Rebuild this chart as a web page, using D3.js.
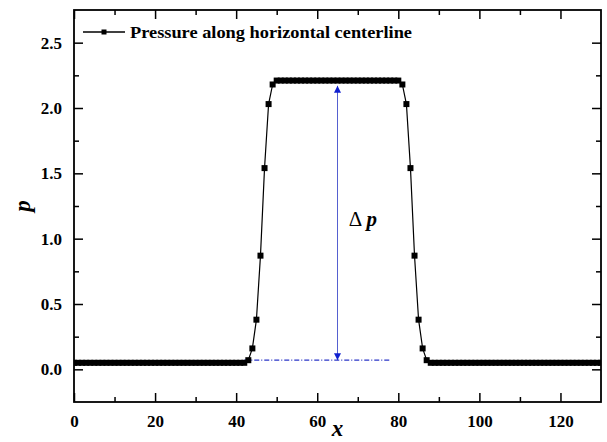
<!DOCTYPE html>
<html lang="en">
<head>
<meta charset="utf-8">
<script src="https://cdn.jsdelivr.net/npm/d3@7"></script>
<style>
  body { margin: 0; background: #fff; }
  text { font-family: "Liberation Serif", "Times New Roman", serif; font-weight: bold; }
</style>
</head>
<body>
<div id="chart"></div>
<script>
// grid positions along the horizontal centerline (x = index)
const pressure = [
  0.05, 0.05, 0.05, 0.05, 0.05, 0.05, 0.05, 0.05, 0.05, 0.05,
  0.05, 0.05, 0.05, 0.05, 0.05, 0.05, 0.05, 0.05, 0.05, 0.05,
  0.05, 0.05, 0.05, 0.05, 0.05, 0.05, 0.05, 0.05, 0.05, 0.05,
  0.05, 0.05, 0.05, 0.05, 0.05, 0.05, 0.05, 0.05, 0.05, 0.05,
  0.05, 0.05, 0.05, 0.07, 0.16, 0.38, 0.87, 1.54, 2.03, 2.18,
  2.21, 2.21, 2.21, 2.21, 2.21, 2.21, 2.21, 2.21, 2.21, 2.21,
  2.21, 2.21, 2.21, 2.21, 2.21, 2.21, 2.21, 2.21, 2.21, 2.21,
  2.21, 2.21, 2.21, 2.21, 2.21, 2.21, 2.21, 2.21, 2.21, 2.21,
  2.21, 2.18, 2.03, 1.54, 0.87, 0.38, 0.16, 0.07, 0.05, 0.05,
  0.05, 0.05, 0.05, 0.05, 0.05, 0.05, 0.05, 0.05, 0.05, 0.05,
  0.05, 0.05, 0.05, 0.05, 0.05, 0.05, 0.05, 0.05, 0.05, 0.05,
  0.05, 0.05, 0.05, 0.05, 0.05, 0.05, 0.05, 0.05, 0.05, 0.05,
  0.05, 0.05, 0.05, 0.05, 0.05, 0.05, 0.05, 0.05, 0.05, 0.05,
  0.05
]
const xTicks = [0, 20, 40, 60, 80, 100, 120]
const xMinor = [10, 30, 50, 70, 90, 110]
const yTicks = [0.0, 0.5, 1.0, 1.5, 2.0, 2.5]
const yMinor = [0.25, 0.75, 1.25, 1.75, 2.25]
// delta p annotation: [x, p] ends
const deltaArrow = [[65, 0.07], [65, 2.17]]
const baseLine = [[42, 0.07], [78, 0.07]]
const deltaLabelAt = [67.8, 1.1]
const legendLabel = 'Pressure along horizontal centerline'

const w = 607
const h = 442
const margin = {left: 74, right: 6, top: 10, bottom: 40}

const svg = d3.select('#chart').append('svg')
  .attr('width', w)
  .attr('height', h)

const x = d3.scaleLinear().domain([0, 130]).range([margin.left, w - margin.right])
const y = d3.scaleLinear().domain([-0.25, 2.75]).range([h - margin.bottom, margin.top])

const data = pressure.map(function(p, i) { return [i, p] })

// clip so the line stops at the frame
svg.append('clipPath').attr('id', 'clip')
  .append('rect')
  .attr('x', margin.left).attr('y', margin.top)
  .attr('width', x.range()[1] - margin.left)
  .attr('height', y.range()[0] - margin.top)

const plot = svg.append('g').attr('clip-path', 'url(#clip)')

// annotation lines (behind the data)
const blue = '#2a35c8'
svg.append('defs').append('marker')
  .attr('id', 'arrow')
  .attr('viewBox', '0 0 10 10')
  .attr('refX', 10).attr('refY', 5)
  .attr('markerWidth', 7).attr('markerHeight', 7)
  .attr('orient', 'auto-start-reverse')
  .attr('markerUnits', 'userSpaceOnUse')
  .append('path')
  .attr('d', 'M0,0 L10,5 L0,10 z')
  .attr('fill', '#1020d0')

plot.append('path')
  .datum(baseLine)
  .attr('d', d3.line().x(d => x(d[0])).y(d => y(d[1])))
  .attr('stroke', blue)
  .attr('stroke-width', 1.2)
  .attr('stroke-dasharray', '5,2,1,2')
  .attr('fill', 'none')

svg.append('path')
  .datum(deltaArrow)
  .attr('d', d3.line().x(d => x(d[0])).y(d => y(d[1])))
  .attr('stroke', '#5560d0')
  .attr('stroke-width', 1)
  .attr('fill', 'none')
  .attr('marker-start', 'url(#arrow)')
  .attr('marker-end', 'url(#arrow)')

// data line + square markers
plot.append('path')
  .datum(data)
  .attr('d', d3.line().x(d => x(d[0])).y(d => y(d[1])))
  .attr('stroke', '#000')
  .attr('stroke-width', 1.2)
  .attr('fill', 'none')

const ms = 6
plot.selectAll('rect.pt')
  .data(data)
  .enter()
  .append('rect')
  .attr('class', 'pt')
  .attr('x', d => x(d[0]) - ms / 2)
  .attr('y', d => y(d[1]) - ms / 2)
  .attr('width', ms)
  .attr('height', ms)
  .attr('fill', '#000')

// axes, ticks pointing inward on all four sides
const x0 = x.range()[0], x1 = x.range()[1]
const y0 = y.range()[0], y1 = y.range()[1]

function labelStyle(g) {
  g.selectAll('.tick text').attr('font-size', 17).attr('fill', '#000')
    .attr('font-family', '"Liberation Serif", serif').attr('font-weight', 'bold')
}
function tickStyle(g) {
  g.select('.domain').remove()
  g.selectAll('.tick line').attr('stroke-width', 1.5)
}

// bottom
svg.append('g').attr('transform', 'translate(0,' + y0 + ')')
  .call(d3.axisBottom(x).tickValues(xTicks).tickSize(-9).tickPadding(13).tickFormat(d3.format('d')))
  .call(tickStyle)
  .call(labelStyle)
svg.append('g').attr('transform', 'translate(0,' + y0 + ')')
  .call(d3.axisBottom(x).tickValues(xMinor).tickSize(-5).tickFormat(''))
  .call(tickStyle)

// top
svg.append('g').attr('transform', 'translate(0,' + y1 + ')')
  .call(d3.axisTop(x).tickValues(xTicks).tickSize(-9).tickFormat(''))
  .call(tickStyle)
svg.append('g').attr('transform', 'translate(0,' + y1 + ')')
  .call(d3.axisTop(x).tickValues(xMinor).tickSize(-5).tickFormat(''))
  .call(tickStyle)

// left
svg.append('g').attr('transform', 'translate(' + x0 + ',0)')
  .call(d3.axisLeft(y).tickValues(yTicks).tickSize(-9).tickPadding(12).tickFormat(d3.format('.1f')))
  .call(tickStyle)
  .call(labelStyle)
svg.append('g').attr('transform', 'translate(' + x0 + ',0)')
  .call(d3.axisLeft(y).tickValues(yMinor).tickSize(-5).tickFormat(''))
  .call(tickStyle)

// right
svg.append('g').attr('transform', 'translate(' + x1 + ',0)')
  .call(d3.axisRight(y).tickValues(yTicks).tickSize(-9).tickFormat(''))
  .call(tickStyle)
svg.append('g').attr('transform', 'translate(' + x1 + ',0)')
  .call(d3.axisRight(y).tickValues(yMinor).tickSize(-5).tickFormat(''))
  .call(tickStyle)

// frame
svg.append('rect')
  .attr('x', x0).attr('y', y1)
  .attr('width', x1 - x0).attr('height', y0 - y1)
  .attr('fill', 'none')
  .attr('stroke', '#000')
  .attr('stroke-width', 1.8)

// axis titles
svg.append('text')
  .text('x')
  .attr('x', (x0 + x1) / 2)
  .attr('y', 436)
  .attr('text-anchor', 'middle')
  .attr('font-size', 23)
  .attr('font-style', 'italic')

svg.append('text')
  .text('p')
  .attr('transform', 'translate(30,' + ((y0 + y1) / 2) + ') rotate(-90)')
  .attr('text-anchor', 'middle')
  .attr('font-size', 23)
  .attr('font-style', 'italic')

// delta p label
const dl = svg.append('text')
  .attr('x', x(deltaLabelAt[0]))
  .attr('y', y(deltaLabelAt[1]))
  .attr('font-size', 21)
dl.append('tspan').text('\u0394 ').attr('font-weight', 'normal')
dl.append('tspan').text('p').attr('font-style', 'italic')

// legend
const lg = svg.append('g').attr('transform', 'translate(83,32)')
lg.append('line').attr('x1', 0).attr('x2', 42).attr('y1', 0).attr('y2', 0)
  .attr('stroke', '#000').attr('stroke-width', 1.5)
lg.append('rect').attr('x', 21 - 2.5).attr('y', -2.5).attr('width', 5).attr('height', 5)
lg.append('text')
  .text(legendLabel)
  .attr('x', 47)
  .attr('y', 5.5)
  .attr('font-size', 17)
  .attr('textLength', 282)
  .attr('lengthAdjust', 'spacingAndGlyphs')
</script>
</body>
</html>
